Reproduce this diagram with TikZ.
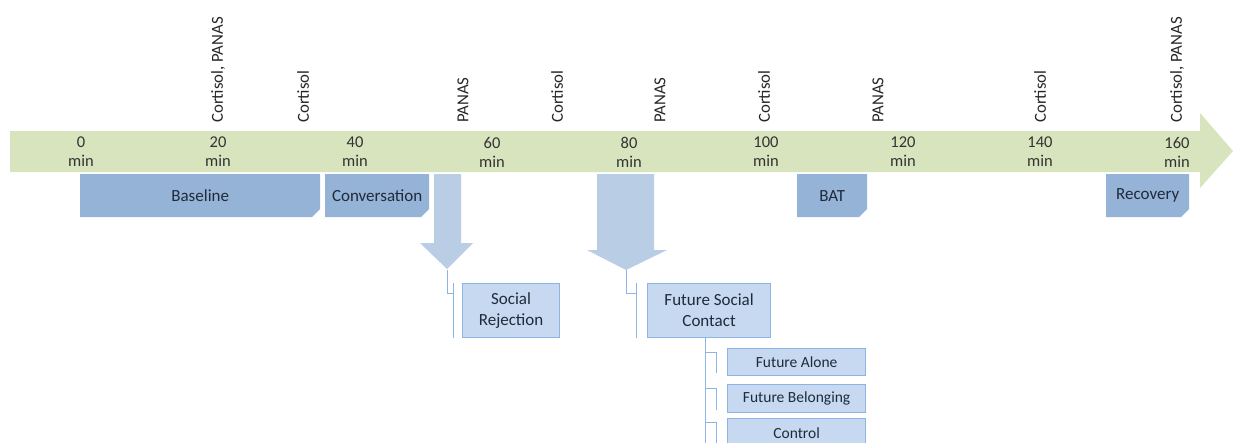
\documentclass[tikz,border=0pt]{standalone}
\usepackage{fontspec}
\setmainfont{Carlito}
\usetikzlibrary{shapes.misc}
\definecolor{bandgreen}{HTML}{D7E4BD}
\definecolor{phaseblue}{HTML}{95B3D7}
\definecolor{paleblue}{HTML}{C6D9F1}
\definecolor{arrowblue}{HTML}{B9CDE5}
\definecolor{edgeblue}{HTML}{8EB4E3}
\definecolor{ink}{HTML}{1F2B3A}
\tikzset{
  phase/.style={chamfered rectangle, chamfered rectangle corners=south east,
    chamfered rectangle xsep=5pt, fill=phaseblue, text=ink, inner sep=0pt,
    anchor=north west, minimum height=43pt, font=\fontsize{17}{20}\selectfont},
  cond/.style={draw=edgeblue, line width=1.2pt, fill=paleblue, text=ink, inner sep=0pt,
    anchor=north west, align=center, font=\fontsize{17}{21}\selectfont},
  subcond/.style={cond, minimum width=138pt, font=\fontsize{15.5}{18}\selectfont},
  branch/.style={draw=edgeblue, line width=1pt},
  minute/.style={align=center, text=black!80, font=\fontsize{16.5}{19}\selectfont},
  measure/.style={rotate=90, anchor=west, inner sep=0pt, text=black!85, font=\fontsize{16.8}{19}\selectfont}
}
\begin{document}
\begin{tikzpicture}[x=1pt, y=-1pt, line join=miter]
  \useasboundingbox (0,0) rectangle (1233,442);
  % timeline
  \fill[bandgreen] (10,131)--(1200,131)--(1200,113)--(1233,151)--(1200,188)--(1200,172)--(10,172)--cycle;
  \foreach \t in {0,20,...,160}
    \node[minute] (m\t) at ({81+6.85*\t},152) {\t\\min};
  \foreach \x/\txt [count=\i] in {218/{Cortisol, PANAS},303/Cortisol,463/PANAS,557/Cortisol,660/PANAS,764/Cortisol,878/PANAS,1040/Cortisol,1177/{Cortisol, PANAS}}
    \node[measure] (q\i) at (\x,123) {\txt};
  % phases
  \node[phase, minimum width=240pt] (base) at (80,174) {Baseline};
  \node[phase, minimum width=104pt] (conv) at (325,174) {Conversation};
  \node[phase, minimum width=70pt] (bat) at (797,174) {BAT};
  \node[phase, minimum width=83pt] (recov) at (1106,174) {Recovery};
  % manipulation arrows
  \fill[arrowblue] (434,174)--(461,174)--(461,243)--(473,243)--(447,269)--(420,243)--(434,243)--cycle;
  \fill[arrowblue] (597,174)--(654,174)--(654,250)--(667,250)--(626,270)--(587,250)--(597,250)--cycle;
  \coordinate (tipA) at (447,270);
  \coordinate (tipB) at (626,270);
  % conditions
  \node[cond, minimum width=97pt, minimum height=54pt] (srej) at (462,283) {Social\\Rejection};
  \node[cond, minimum width=123pt, minimum height=54pt] (fsc) at (647,283) {Future Social\\Contact};
  \node[subcond, minimum height=27pt] (falone) at (727,348) {Future Alone};
  \node[subcond, minimum height=28pt] (fbelong) at (727,384) {Future Belonging};
  \node[subcond, minimum height=30pt] (ctrl) at (727,418) {Control};
  \draw[branch] (tipA) -- ++(0,23) -- ++(6,0);
  \draw[branch] ([xshift=-9pt]srej.north west) -- ([xshift=-9pt]srej.south west);
  \draw[branch] (tipB) -- ++(0,23) -- ++(10,0);
  \draw[branch] ([xshift=-11pt]fsc.north west) -- ([xshift=-11pt]fsc.south west);
  \draw[branch] ([xshift=-3.5pt]fsc.south) -- ++(0,110);
  \foreach \n in {falone,fbelong,ctrl}
    \draw[branch] ([xshift=-22pt,yshift=-4pt]\n.north west) -- ([xshift=-11pt,yshift=-4pt]\n.north west) -- ([xshift=-11pt,yshift=3pt]\n.south west);
\end{tikzpicture}
\end{document}
